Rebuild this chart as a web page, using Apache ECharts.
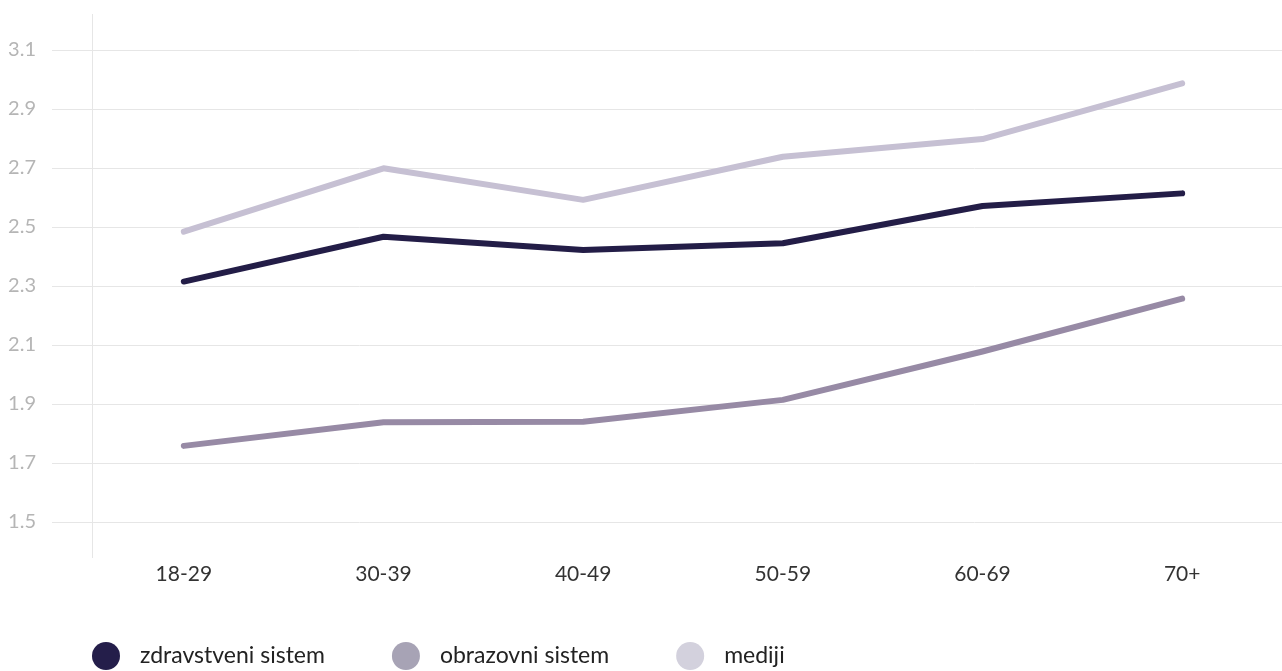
<!DOCTYPE html>
<html>
<head>
<meta charset="utf-8">
<script src="https://cdn.jsdelivr.net/npm/echarts@6/dist/echarts.min.js"></script>
<style>
html,body{margin:0;padding:0;background:#fff;}
#chart{width:1282px;height:671px;}
</style>
</head>
<body>
<div id="chart"></div>
<script>
const categories = ['18-29', '30-39', '40-49', '50-59', '60-69', '70+'];
const zdravstveni = [2.315, 2.467, 2.422, 2.445, 2.571, 2.614];
const obrazovni = [1.758, 1.838, 1.840, 1.914, 2.078, 2.257];
const mediji = [2.484, 2.699, 2.592, 2.738, 2.798, 2.987];
const seriesNames = ['zdravstveni sistem', 'obrazovni sistem', 'mediji'];
const yMin = 1.5, yMax = 3.1, yStep = 0.2;

const font = 'Lato, "Open Sans", sans-serif';
const chart = echarts.init(document.getElementById('chart'), null, {renderer: 'canvas'});
const lineColors = ['#231d47', '#978aa5', '#c6c0d3'];
const legendColors = ['#241e4a', '#a7a3b5', '#d3d1dd'];

chart.setOption({
  animation: false,
  textStyle: {fontFamily: font},
  grid: [
    {left: 52, right: 0, top: 50, bottom: 149},
    {left: 84, width: 1200, top: 50, bottom: 149}
  ],
  xAxis: [
    {gridIndex: 0, type: 'value', show: false, min: 0, max: 1},
    {gridIndex: 1, type: 'category', data: categories, boundaryGap: true,
     axisLine: {show: false}, axisTick: {show: false},
     axisLabel: {color: '#333', fontSize: 21, margin: 42, fontFamily: font}}
  ],
  yAxis: [
    {gridIndex: 0, type: 'value', min: yMin, max: yMax, interval: yStep,
     axisLine: {show: false}, axisTick: {show: false},
     axisLabel: {color: '#b5b5b5', fontSize: 20, margin: 16, fontFamily: font,
                 formatter: v => v.toFixed(1)},
     splitLine: {lineStyle: {color: '#e6e6e6', width: 1}}},
    {gridIndex: 1, type: 'value', min: yMin, max: yMax, show: false, splitLine: {show: false}}
  ],
  legend: {
    left: 92, top: 642, padding: 0, icon: 'circle', itemWidth: 28, itemHeight: 28, itemGap: 67,
    data: seriesNames.map((n, i) => ({name: n, itemStyle: {color: legendColors[i]}})),
    textStyle: {color: '#222', fontSize: 23, fontFamily: font, padding: [0, 0, 0, 15]}
  },
  graphic: [
    {type: 'line', shape: {x1: 92.5, y1: 14, x2: 92.5, y2: 558}, style: {stroke: '#e6e6e6', lineWidth: 1}, silent: true}
  ],
  series: [
    {name: seriesNames[0], type: 'line', xAxisIndex: 1, yAxisIndex: 1, data: zdravstveni,
     showSymbol: false, lineStyle: {color: lineColors[0], width: 6, cap: 'round', join: 'round'}, itemStyle: {color: lineColors[0]}},
    {name: seriesNames[1], type: 'line', xAxisIndex: 1, yAxisIndex: 1, data: obrazovni,
     showSymbol: false, lineStyle: {color: lineColors[1], width: 6, cap: 'round', join: 'round'}, itemStyle: {color: lineColors[1]}},
    {name: seriesNames[2], type: 'line', xAxisIndex: 1, yAxisIndex: 1, data: mediji,
     showSymbol: false, lineStyle: {color: lineColors[2], width: 6, cap: 'round', join: 'round'}, itemStyle: {color: lineColors[2]}}
  ]
});
</script>
</body>
</html>
